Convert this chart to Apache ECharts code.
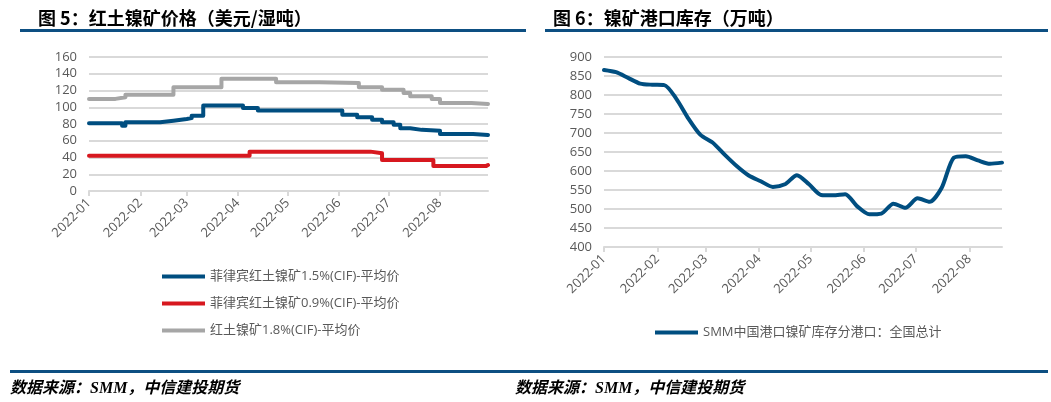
<!DOCTYPE html>
<html><head><meta charset="utf-8">
<script src="https://cdn.jsdelivr.net/npm/echarts@6/dist/echarts.min.js"></script>
<style>html,body{margin:0;padding:0;background:#fff}#c{width:1051px;height:402px}</style>
</head><body><div id="c"></div>
<script>
// ---------- data ----------
const monthStarts = ['2022-01-01','2022-02-01','2022-03-01','2022-04-01','2022-05-01','2022-06-01','2022-07-01','2022-08-01'];
const monthLabels = ['2022-01','2022-02','2022-03','2022-04','2022-05','2022-06','2022-07','2022-08'];
const priceNames = ['菲律宾红土镍矿1.5%(CIF)-平均价','菲律宾红土镍矿0.9%(CIF)-平均价','红土镍矿1.8%(CIF)-平均价'];
const priceYTicks = [0,20,40,60,80,100,120,140,160];
const invYTicks = [400,450,500,550,600,650,700,750,800,850,900];

const ph15Dates  = ['2022-01-01','2022-01-21','2022-01-23','2022-02-13','2022-02-21','2022-03-01','2022-03-04','2022-03-11','2022-04-04','2022-04-13','2022-06-03','2022-06-12','2022-06-21','2022-06-27','2022-07-04','2022-07-08','2022-07-14','2022-07-21','2022-08-01','2022-08-21','2022-08-30'];
const ph15Values = [81,78,82,84,86,87,90,102,99,96,91,88,85,82,79,75,73,72,68,67,67];

const ph09Dates  = ['2022-01-01','2022-04-08','2022-06-20','2022-06-27','2022-07-28','2022-08-29','2022-08-30'];
const ph09Values = [42,47,45,37,30,31,31];

const l18Dates   = ['2022-01-01','2022-01-17','2022-01-23','2022-02-21','2022-03-22','2022-04-24','2022-05-20','2022-06-13','2022-06-27','2022-07-10','2022-07-14','2022-07-27','2022-08-01','2022-08-20','2022-08-30'];
const l18Values  = [110,112,115,124,134,130,129,124,121,117,113,110,105,104,104];

const invName   = 'SMM中国港口镍矿库存分港口：全国总计';
const invDates  = ['2022-01-01','2022-01-08','2022-01-15','2022-01-22','2022-01-29','2022-02-05','2022-02-12','2022-02-19','2022-02-26','2022-03-05','2022-03-12','2022-03-19','2022-03-26','2022-04-02','2022-04-09','2022-04-16','2022-04-23','2022-04-30','2022-05-07','2022-05-14','2022-05-21','2022-05-28','2022-06-04','2022-06-11','2022-06-18','2022-06-25','2022-07-02','2022-07-09','2022-07-16','2022-07-23','2022-07-30','2022-08-06','2022-08-13','2022-08-20'];
const invValues = [866,860,845,830,827,826,790,738,695,675,643,613,588,573,558,565,589,565,537,536,539,507,486,488,514,503,528,519,556,635,639,628,619,622];

// ---------- chart ----------
const BLUE = '#004e80', RED = '#d7181f', GRAY = '#a6a6a6', GRID = '#d9d9d9', TXT = '#595959';
const FONT = "'Open Sans','Noto Sans CJK SC',sans-serif";
const dayOf = s => { const p = s.split('-'); return Math.round((Date.UTC(+p[0], +p[1]-1, +p[2]) - Date.UTC(2022,0,1)) / 86400000); };
const pairs = (d, v) => d.map((x, i) => [dayOf(x), v[i]]);
const monthVals = monthStarts.map(dayOf);
const fmtMonth = v => { const i = monthVals.indexOf(Math.round(v)); return i >= 0 ? monthLabels[i] : ''; };

function xAxis(gi, min, max) {
  return {
    type: 'value', gridIndex: gi, min: dayOf(min), max: dayOf(max),
    axisLine: { show: true, onZero: false, lineStyle: { color: GRID, width: 2 } },
    axisTick: { show: true, customValues: monthVals, length: 5, lineStyle: { color: GRID, width: 2 } },
    axisLabel: { customValues: monthVals, formatter: fmtMonth, rotate: 45, margin: 10, color: TXT, fontSize: 13, fontFamily: FONT },
    splitLine: { show: false }
  };
}
function yAxis(gi, ticks) {
  return {
    type: 'value', gridIndex: gi, min: ticks[0], max: ticks[ticks.length-1], interval: ticks[1]-ticks[0],
    axisLine: { show: false }, axisTick: { show: false },
    axisLabel: { color: TXT, fontSize: 13, fontFamily: FONT, margin: 12 },
    splitLine: { lineStyle: { color: GRID, width: 2 } }
  };
}
function stepSeries(name, d, v, color) {
  return { name: name, type: 'line', xAxisIndex: 0, yAxisIndex: 0, step: 'end', showSymbol: false, symbol: 'none',
           data: pairs(d, v), lineStyle: { color: color, width: 4, cap: 'round', join: 'round' }, itemStyle: { color: color }, z: 3 };
}

const chart = echarts.init(document.getElementById('c'), null, { renderer: 'canvas' });
chart.setOption({
  animation: false,
  backgroundColor: '#fff',
  title: [
    { text: '图 5：红土镍矿价格（美元/湿吨）', left: 33, top: 4, textStyle: { fontSize: 18, fontWeight: 'bold', color: '#000', fontFamily: "'Noto Sans CJK SC',sans-serif" } },
    { text: '图 6：镍矿港口库存（万吨）', left: 548, top: 4, textStyle: { fontSize: 18, fontWeight: 'bold', color: '#000', fontFamily: "'Noto Sans CJK SC',sans-serif" } }
  ],
  graphic: [
    { type: 'rect', shape: { x: 20, y: 29, width: 506, height: 3 }, style: { fill: '#0d4f82' } },
    { type: 'rect', shape: { x: 545, y: 29, width: 503, height: 3 }, style: { fill: '#0d4f82' } },
    { type: 'rect', shape: { x: 10, y: 370, width: 1038, height: 3 }, style: { fill: '#0d4f82' } },
    { type: 'text', x: 10, y: 381, style: { text: '数据来源：SMM，中信建投期货', font: "italic bold 16px 'Liberation Serif','Noto Sans CJK SC',serif", fill: '#000' } },
    { type: 'text', x: 515, y: 381, style: { text: '数据来源：SMM，中信建投期货', font: "italic bold 16px 'Liberation Serif','Noto Sans CJK SC',serif", fill: '#000' } }
  ],
  legend: [
    { data: priceNames, orient: 'vertical', left: 157, top: 265, itemWidth: 43, itemHeight: 4, itemGap: 14, icon: 'rect',
      textStyle: { color: TXT, fontSize: 13, fontFamily: FONT } },
    { data: [invName], left: 650, top: 321, itemWidth: 43, itemHeight: 4, icon: 'rect',
      textStyle: { color: TXT, fontSize: 13, fontFamily: FONT } }
  ],
  grid: [
    { left: 89, right: 563, top: 57, bottom: 211, outerBoundsMode: 'none' },
    { left: 604, right: 49, top: 57, bottom: 155, outerBoundsMode: 'none' }
  ],
  xAxis: [ xAxis(0, '2022-01-01', '2022-08-30'), xAxis(1, '2022-01-01', '2022-08-20') ],
  yAxis: [ yAxis(0, priceYTicks), yAxis(1, invYTicks) ],
  series: [
    stepSeries(priceNames[0], ph15Dates, ph15Values, BLUE),
    stepSeries(priceNames[1], ph09Dates, ph09Values, RED),
    stepSeries(priceNames[2], l18Dates, l18Values, GRAY),
    { name: invName, type: 'line', xAxisIndex: 1, yAxisIndex: 1, showSymbol: false, symbol: 'none', smooth: 0.25,
      data: pairs(invDates, invValues), lineStyle: { color: BLUE, width: 4, cap: 'round', join: 'round' }, itemStyle: { color: BLUE }, z: 3 }
  ]
});
</script></body></html>
